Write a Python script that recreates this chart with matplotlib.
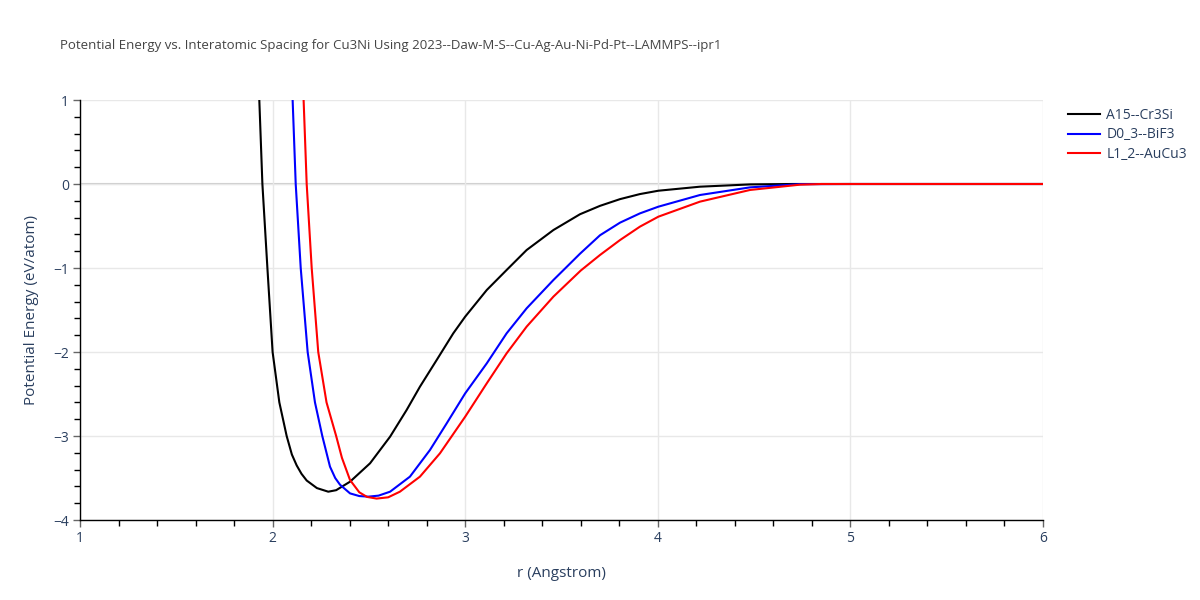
import numpy as np
import matplotlib
matplotlib.use("Agg")
import matplotlib.pyplot as plt
from matplotlib.ticker import MultipleLocator

# values
r_a15 = [1.90, 1.931, 1.947, 1.973, 2.00, 2.035, 2.073, 2.10, 2.125, 2.15, 2.177, 2.23, 2.289, 2.33,
         2.402, 2.506, 2.61, 2.696, 2.765, 2.852, 2.938, 3.00, 3.112, 3.215, 3.319, 3.458,
         3.596, 3.70, 3.804, 3.907, 4.003, 4.219, 4.479, 4.70, 5.0, 6.0]
e_a15 = [2.9, 1.0, 0.0, -1.0, -2.0, -2.6, -3.0, -3.22, -3.35, -3.45, -3.53, -3.62, -3.663, -3.645,
         -3.544, -3.325, -3.008, -2.69, -2.413, -2.095, -1.778, -1.579, -1.262, -1.024, -0.786, -0.548,
         -0.36, -0.26, -0.18, -0.12, -0.08, -0.032, -0.005, 0.0, 0.0, 0.0]

r_d03 = [2.08, 2.104, 2.12, 2.146, 2.182, 2.22, 2.258, 2.298, 2.325, 2.35, 2.402, 2.45, 2.497, 2.55,
         2.61, 2.713, 2.817, 2.904, 3.00, 3.112, 3.215, 3.319, 3.458, 3.53, 3.596, 3.70,
         3.804, 3.907, 4.003, 4.219, 4.479, 4.738, 5.0, 6.0]
e_d03 = [2.5, 1.0, 0.0, -1.0, -2.0, -2.6, -3.0, -3.365, -3.50, -3.58, -3.683, -3.715, -3.722, -3.71,
         -3.663, -3.484, -3.167, -2.849, -2.492, -2.135, -1.778, -1.48, -1.143, -0.98, -0.83, -0.61,
         -0.46, -0.35, -0.27, -0.131, -0.04, -0.002, 0.0, 0.0]

r_l12 = [2.14, 2.161, 2.177, 2.203, 2.237, 2.28, 2.33, 2.36, 2.402, 2.45, 2.49, 2.54, 2.60,
         2.661, 2.765, 2.869, 3.00, 3.112, 3.215, 3.319, 3.458, 3.60, 3.70, 3.804, 3.907,
         4.003, 4.219, 4.479, 4.738, 4.85, 5.0, 6.0]
e_l12 = [2.3, 1.0, 0.0, -1.0, -2.0, -2.6, -3.0, -3.26, -3.524, -3.67, -3.725, -3.745, -3.73,
         -3.663, -3.484, -3.206, -2.77, -2.373, -2.016, -1.698, -1.341, -1.03, -0.845, -0.667, -0.508,
         -0.389, -0.21, -0.071, -0.008, 0.0, 0.0, 0.0]

series = [
    ("A15--Cr3Si", r_a15, e_a15, "black"),
    ("D0_3--BiF3", r_d03, e_d03, "blue"),
    ("L1_2--AuCu3", r_l12, e_l12, "red"),
]

title = "Potential Energy vs. Interatomic Spacing for Cu3Ni Using 2023--Daw-M-S--Cu-Ag-Au-Ni-Pd-Pt--LAMMPS--ipr1"

plt.rcParams["font.family"] = ["Open Sans", "DejaVu Sans"]
text_col = "#2a3f5f"

fig = plt.figure(figsize=(12, 6), dpi=100)
ax = fig.add_axes([80 / 1200, 80 / 600, 963 / 1200, 420 / 600])

for name, r, e, col in series:
    ax.plot(r, e, color=col, lw=1.5, label=name, zorder=3)

ax.set_xlim(1, 6)
ax.set_ylim(-4, 1)
ax.xaxis.set_major_locator(MultipleLocator(1))
ax.xaxis.set_minor_locator(MultipleLocator(0.2))
ax.yaxis.set_major_locator(MultipleLocator(1))
ax.yaxis.set_minor_locator(MultipleLocator(0.2))

ax.grid(True, which="major", color="#e8e8e8", lw=1, zorder=0)
ax.axhline(0, color="#cccccc", lw=1.5, zorder=1)

for s in ["top", "right"]:
    ax.spines[s].set_visible(False)
for s in ["left", "bottom"]:
    ax.spines[s].set_color("black")
    ax.spines[s].set_linewidth(1)

ax.tick_params(which="major", direction="out", length=5, width=1, color="#666666",
               labelsize=10, labelcolor=text_col, pad=3)
ax.tick_params(which="minor", direction="out", length=4, width=1, color="black")

ax.set_xlabel("r (Angstrom)", fontsize=11, color=text_col, labelpad=14)
ax.set_ylabel("Potential Energy (eV/atom)", fontsize=11, color=text_col, labelpad=10)

fig.text(60 / 1200, 1 - 46 / 600, title, fontsize=9.5, color="#444444", va="center", ha="left")

ax.legend(loc="upper left", bbox_to_anchor=(1062 / 1200, 1 - 102 / 600),
          bbox_transform=fig.transFigure, frameon=False, fontsize=10,
          handlelength=2.3, handletextpad=0.5, labelspacing=0.35, borderaxespad=0,
          labelcolor=text_col)

fig.savefig("out.png", dpi=100)
